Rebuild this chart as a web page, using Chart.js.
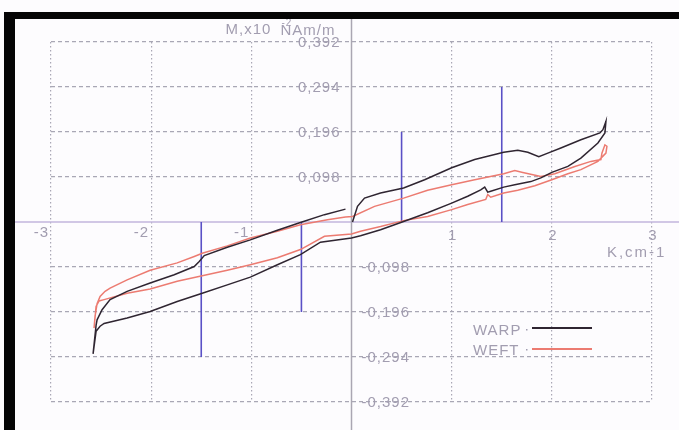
<!DOCTYPE html>
<html>
<head>
<meta charset="utf-8">
<script src="https://cdn.jsdelivr.net/npm/chart.js@4"></script>
<style>
  html, body { margin: 0; padding: 0; background: #fdfcfe; }
  #wrap { position: relative; width: 679px; height: 430px; overflow: hidden; }
  #plot { position: absolute; left: 0; top: 0; }
  .bandTop { position: absolute; left: 4px; top: 12px; width: 675px; height: 7px; background: #050505; }
  .bandLeft { position: absolute; left: 4px; top: 12px; width: 11px; height: 418px; background: #050505; }
</style>
</head>
<body>
<div id="wrap">
  <canvas id="plot" width="679" height="430"></canvas>
  <div class="bandTop"></div>
  <div class="bandLeft"></div>
</div>
<script>
// Curvature K (cm^-1) and magnetisation M (x10^-2 N·m/m) for each fabric direction
const warpK = [0.01, 0.06, 0.13, 0.29, 0.52, 0.73, 1.00, 1.23, 1.52, 1.66, 1.76, 1.87, 1.96, 2.09, 2.29, 2.48, 2.51, 2.54,
  2.53, 2.46, 2.29, 2.16, 2.00, 1.89, 1.79, 1.63, 1.52, 1.39, 1.36, 1.33, 1.29, 1.16, 1.00, 0.76, 0.52, 0.29, 0.09, 0.00,
  -0.31, -0.51, -0.74, -1.01, -1.24, -1.49, -1.74, -2.01, -2.24, -2.47, -2.51, -2.55, -2.57, -2.58,
  -2.55, -2.54, -2.49, -2.41, -2.24, -2.01, -1.77, -1.57, -1.52, -1.47, -1.24, -1.01, -0.74, -0.51, -0.27, -0.06];
const warpM = [0.000, 0.034, 0.052, 0.063, 0.074, 0.092, 0.118, 0.136, 0.152, 0.156, 0.152, 0.142, 0.150, 0.161, 0.179, 0.194, 0.201, 0.219,
  0.194, 0.172, 0.139, 0.121, 0.108, 0.096, 0.088, 0.081, 0.076, 0.067, 0.065, 0.076, 0.070, 0.056, 0.041, 0.020, 0.001, -0.017, -0.030, -0.035,
  -0.044, -0.071, -0.093, -0.120, -0.137, -0.155, -0.173, -0.195, -0.209, -0.221, -0.227, -0.238, -0.271, -0.287,
  -0.225, -0.213, -0.191, -0.169, -0.151, -0.133, -0.115, -0.097, -0.086, -0.073, -0.055, -0.039, -0.018, -0.001, 0.016, 0.028];

const weftK = [0.01, 0.23, 0.52, 0.76, 1.00, 1.23, 1.52, 1.63, 1.71, 1.89, 2.03, 2.23, 2.39, 2.49, 2.50, 2.53,
  2.55, 2.54, 2.46, 2.29, 2.16, 2.00, 1.83, 1.66, 1.52, 1.39, 1.36, 1.34, 1.16, 1.00, 0.76, 0.52, 0.29, 0.09, 0.00,
  -0.27, -0.51, -0.74, -1.01, -1.24, -1.49, -1.74, -2.01, -2.24, -2.47, -2.52, -2.55, -2.57,
  -2.56, -2.54, -2.51, -2.46, -2.41, -2.24, -2.01, -1.74, -1.57, -1.49, -1.24, -1.01, -0.74, -0.51, -0.24, -0.06, 0.01];
const weftM = [0.012, 0.034, 0.052, 0.069, 0.081, 0.092, 0.105, 0.112, 0.108, 0.099, 0.105, 0.121, 0.132, 0.136, 0.150, 0.168,
  0.165, 0.150, 0.132, 0.114, 0.105, 0.092, 0.079, 0.069, 0.063, 0.054, 0.060, 0.049, 0.038, 0.027, 0.012, 0.003, -0.010, -0.020, -0.026,
  -0.031, -0.060, -0.078, -0.093, -0.105, -0.117, -0.129, -0.146, -0.155, -0.169, -0.172, -0.184, -0.231,
  -0.205, -0.178, -0.162, -0.151, -0.144, -0.126, -0.105, -0.089, -0.075, -0.068, -0.052, -0.035, -0.020, -0.006, 0.005, 0.011, 0.012];

// Vertical reference markers: position on K and the M value they reach
const markerK = [-1.5, -0.5, 0.5, 1.5];
const markerM = [-0.294, -0.196, 0.196, 0.294];

// Axis ticks
const kTicks = [-3, -2, -1, 0, 1, 2, 3];
const mTicks = [-0.392, -0.294, -0.196, -0.098, 0, 0.098, 0.196, 0.294, 0.392];
const kTickLabels = ['-3', '-2', '-1', '', '1', '2', '3'];
const mTickLabels = ['-0,392', '-0,294', '-0,196', '-0,098', '', '0,098', '0,196', '0,294', '0,392'];

const seriesNames = ['WARP', 'WEFT'];
const seriesColors = ['#2f2531', '#ec7b71'];
const markerColor = '#5a50c6';
const textColor = '#a29db0';
const fontFamily = '"Liberation Sans", Arial, sans-serif';

const toPoints = (xs, ys) => xs.map((x, i) => ({ x: x, y: ys[i] }));

const datasets = [
  { label: seriesNames[0], data: toPoints(warpK, warpM), borderColor: seriesColors[0] },
  { label: seriesNames[1], data: toPoints(weftK, weftM), borderColor: seriesColors[1] }
];
markerK.forEach((k, i) => {
  datasets.push({ label: 'marker' + i, data: [{ x: k, y: 0 }, { x: k, y: markerM[i] }], borderColor: markerColor, isMarker: true });
});
datasets.forEach(d => {
  d.showLine = true;
  d.pointRadius = 0;
  d.borderWidth = d.isMarker ? 1.6 : 1.5;
  d.tension = 0;
  d.fill = false;
});

// Axis lines through the origin, tick labels, axis titles and the legend
const decor = {
  id: 'decor',
  beforeDatasetsDraw(chart) {
    const ctx = chart.ctx;
    const xs = chart.scales.x, ys = chart.scales.y;
    const x0 = xs.getPixelForValue(0), y0 = ys.getPixelForValue(0);
    ctx.save();
    ctx.lineWidth = 1.5;
    ctx.strokeStyle = '#c2b6dc';
    ctx.beginPath(); ctx.moveTo(15, y0); ctx.lineTo(chart.width, y0); ctx.stroke();
    ctx.strokeStyle = '#aaa6b2';
    ctx.beginPath(); ctx.moveTo(x0, 19); ctx.lineTo(x0, chart.height); ctx.stroke();
    ctx.restore();
  },
  afterDraw(chart) {
    const ctx = chart.ctx;
    const xs = chart.scales.x, ys = chart.scales.y;
    const x0 = xs.getPixelForValue(0), y0 = ys.getPixelForValue(0);
    ctx.save();
    ctx.fillStyle = textColor;
    ctx.font = '15px ' + fontFamily;
    ctx.letterSpacing = '1px';

    // K tick labels just below the horizontal axis
    ctx.textBaseline = 'top';
    kTicks.forEach((v, i) => {
      const px = xs.getPixelForValue(v);
      if (v < 0) { ctx.textAlign = 'right'; ctx.fillText(kTickLabels[i], px - 2, y0 + 3); }
      else if (v > 0) { ctx.textAlign = 'center'; ctx.fillText(kTickLabels[i], px + 1, y0 + 6); }
    });

    // M tick labels: positive values left of the axis, negative values right of it
    ctx.textBaseline = 'middle';
    mTicks.forEach((v, i) => {
      const py = ys.getPixelForValue(v);
      if (v > 0) { ctx.textAlign = 'right'; ctx.fillText(mTickLabels[i], x0 - 11, py + 1); }
      else if (v < 0) { ctx.textAlign = 'left'; ctx.fillText(mTickLabels[i], x0 + 10, py + 1); }
    });

    // Axis titles
    ctx.textAlign = 'left';
    ctx.fillText('M,x10', x0 - 126, 30);
    ctx.font = '10px ' + fontFamily;
    ctx.fillText('-2', x0 - 70, 23);
    ctx.font = '15px ' + fontFamily;
    ctx.fillText('NAm/m', x0 - 71, 31);
    ctx.letterSpacing = '2px';
    ctx.fillText('K,cm-1', xs.getPixelForValue(2.55), y0 + 31);
    ctx.letterSpacing = '1px';

    // Legend
    const lx = 473, ly = [330, 350];
    seriesNames.forEach((name, i) => {
      ctx.fillStyle = textColor;
      ctx.textAlign = 'left';
      ctx.fillText(name, lx, ly[i] + 1);
      ctx.fillRect(lx + 53, ly[i] - 1, 1.5, 1.5);
      ctx.strokeStyle = seriesColors[i];
      ctx.lineWidth = 2;
      ctx.beginPath();
      ctx.moveTo(lx + 59, ly[i] - 2 + i);
      ctx.lineTo(lx + 119, ly[i] - 2 + i);
      ctx.stroke();
    });
    ctx.restore();
  }
};

const gridColor = c => (c.tick && c.tick.value === 0) ? 'rgba(0,0,0,0)' : '#a9a7b5';

new Chart(document.getElementById('plot'), {
  type: 'scatter',
  data: { datasets: datasets },
  options: {
    responsive: false,
    animation: false,
    devicePixelRatio: 1,
    layout: { padding: { left: 51, right: 27, top: 42, bottom: 28 } },
    plugins: { legend: { display: false }, tooltip: { enabled: false } },
    scales: {
      x: {
        type: 'linear', min: -3, max: 3,
        afterBuildTicks: s => { s.ticks = kTicks.map(v => ({ value: v })); },
        afterFit: s => { s.height = 0; },
        ticks: { display: false },
        grid: { color: gridColor, lineWidth: 1.2, drawTicks: false },
        border: { display: false, dash: [1.5, 2.5] }
      },
      y: {
        type: 'linear', min: -0.392, max: 0.392,
        afterBuildTicks: s => { s.ticks = mTicks.map(v => ({ value: v })); },
        afterFit: s => { s.width = 0; },
        ticks: { display: false },
        grid: { color: gridColor, lineWidth: 1.2, drawTicks: false },
        border: { display: false, dash: [4, 3] }
      }
    }
  },
  plugins: [decor]
});
</script>
</body>
</html>
